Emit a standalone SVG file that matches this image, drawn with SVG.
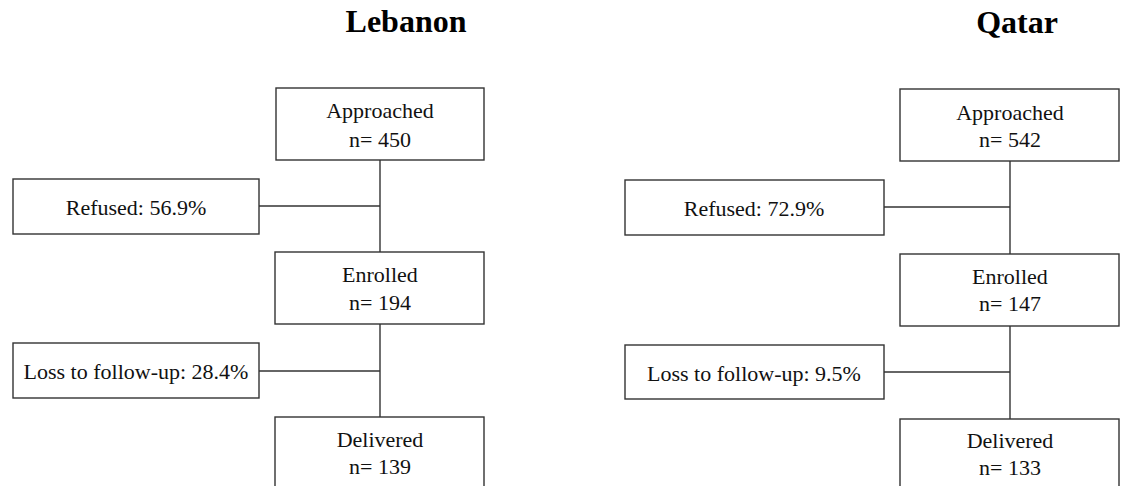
<svg xmlns="http://www.w3.org/2000/svg" width="1134" height="486" viewBox="0 0 1134 486">
<style>
.box{fill:#fff;stroke:#333;stroke-width:1.4}
.ln{stroke:#333;stroke-width:1.4;fill:none}
.t{font-family:"Liberation Serif","Times New Roman",serif;font-size:22px;fill:#111;text-anchor:middle}
.h{font-family:"Liberation Serif","Times New Roman",serif;font-size:32px;font-weight:bold;fill:#000;text-anchor:middle}
</style>
<rect width="1134" height="486" fill="#fff"/>
<text class="h" x="406" y="32">Lebanon</text>
<text class="h" x="1017" y="33">Qatar</text>
<g id="connectors">
<line class="ln" x1="380" y1="160" x2="380" y2="252"/>
<line class="ln" x1="259" y1="206" x2="380" y2="206"/>
<line class="ln" x1="380" y1="324" x2="380" y2="417"/>
<line class="ln" x1="259" y1="371" x2="380" y2="371"/>
<line class="ln" x1="1010" y1="161" x2="1010" y2="254"/>
<line class="ln" x1="884" y1="207" x2="1010" y2="207"/>
<line class="ln" x1="1010" y1="326" x2="1010" y2="419"/>
<line class="ln" x1="884" y1="372" x2="1010" y2="372"/>
</g>
<g id="leb-approached"><rect class="box" x="276" y="88" width="208" height="72"/><text class="t" x="380" y="118">Approached</text><text class="t" x="380" y="147">n= 450</text></g>
<g id="leb-refused"><rect class="box" x="13" y="179" width="246" height="55"/><text class="t" x="136" y="215">Refused: 56.9%</text></g>
<g id="leb-enrolled"><rect class="box" x="275" y="252" width="209" height="72"/><text class="t" x="380" y="282">Enrolled</text><text class="t" x="380" y="310">n= 194</text></g>
<g id="leb-loss"><rect class="box" x="13" y="343" width="246" height="55"/><text class="t" x="136" y="379">Loss to follow-up: 28.4%</text></g>
<g id="leb-delivered"><rect class="box" x="275" y="417" width="209" height="80"/><text class="t" x="380" y="447">Delivered</text><text class="t" x="380" y="474">n= 139</text></g>
<g id="qat-approached"><rect class="box" x="900" y="89" width="219" height="72"/><text class="t" x="1010" y="120">Approached</text><text class="t" x="1010" y="147">n= 542</text></g>
<g id="qat-refused"><rect class="box" x="625" y="180" width="259" height="55"/><text class="t" x="754" y="216">Refused: 72.9%</text></g>
<g id="qat-enrolled"><rect class="box" x="900" y="254" width="219" height="72"/><text class="t" x="1010" y="284">Enrolled</text><text class="t" x="1010" y="311">n= 147</text></g>
<g id="qat-loss"><rect class="box" x="625" y="345" width="259" height="54"/><text class="t" x="754" y="381">Loss to follow-up: 9.5%</text></g>
<g id="qat-delivered"><rect class="box" x="900" y="419" width="219" height="80"/><text class="t" x="1010" y="448">Delivered</text><text class="t" x="1010" y="475">n= 133</text></g>
</svg>
